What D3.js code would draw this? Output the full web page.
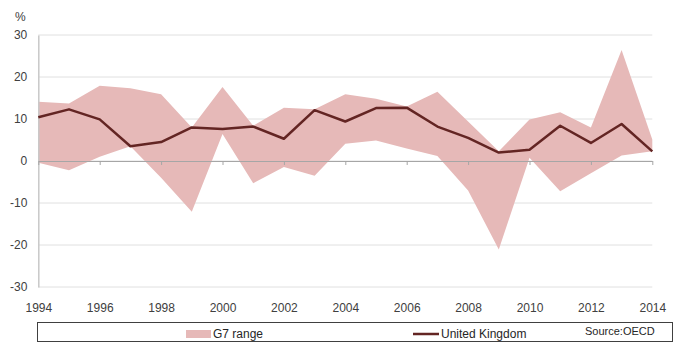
<!DOCTYPE html>
<html>
<head>
<meta charset="utf-8">
<script src="https://cdn.jsdelivr.net/npm/d3@7"></script>
<style>
  body { margin: 0; background: #fff; }
  svg { display: block; font-family: "Liberation Sans", Arial, sans-serif; }
</style>
</head>
<body>
<svg id="chart" width="681" height="348"></svg>
<script>
'use strict';

var years = d3.range(1994, 2015);
var g7Low = [-0.4, -2.2, 1.0, 3.5, -4.0, -12.1, 6.4, -5.3, -1.4, -3.5, 4.1,
  4.9, 3.0, 1.2, -7.0, -21.1, 0.8, -7.2, -2.9, 1.3, 2.3];
var g7High = [14.1, 13.7, 17.9, 17.3, 15.9, 8.0, 17.6, 8.4, 12.7, 12.3, 15.9,
  14.8, 13.0, 16.5, 9.4, 2.3, 9.9, 11.6, 8.0, 26.4, 5.1];
var uk = [10.4, 12.3, 9.9, 3.5, 4.5, 8.0, 7.6, 8.2, 5.3, 12.1, 9.4,
  12.6, 12.7, 8.2, 5.5, 2.0, 2.7, 8.4, 4.3, 8.8, 2.3];
var yTicks = [-30, -20, -10, 0, 10, 20, 30];
var xTicks = d3.range(1994, 2015, 2);

var svg = d3.select('#chart');

var x = d3.scaleLinear().domain([1994, 2014]).range([38.3, 652.3]);
var y = d3.scaleLinear().domain([-30, 30]).range([287, 35]);

// horizontal gridlines
svg.append('g')
  .selectAll('line')
  .data(yTicks)
  .enter()
  .append('line')
  .attr('x1', x(1994))
  .attr('x2', x(2014))
  .attr('y1', function (d) { return y(d); })
  .attr('y2', function (d) { return y(d); })
  .attr('stroke', '#e0e0e0')
  .attr('stroke-width', 1);

// G7 range band
var band = d3.area()
  .x(function (d, i) { return x(years[i]); })
  .y0(function (d, i) { return y(g7Low[i]); })
  .y1(function (d, i) { return y(g7High[i]); });

svg.append('path')
  .datum(years)
  .attr('d', band)
  .attr('fill', '#e6b9b8');

// y axis: labels only plus a plain vertical rule (plain hyphen for negatives)
var yAxis = svg.append('g')
  .attr('transform', 'translate(' + x(1994) + ',0)')
  .call(d3.axisLeft(y).tickValues(yTicks).tickSize(0).tickPadding(11)
    .tickFormat(function (d) { return String(d); }));
yAxis.select('.domain').attr('stroke', '#c8c8c8').attr('stroke-width', 1.5);
yAxis.selectAll('text')
  .attr('fill', '#404040')
  .style('font-size', '12px');

svg.append('text')
  .attr('x', 15)
  .attr('y', 21)
  .attr('fill', '#404040')
  .style('font-size', '12px')
  .text('%');

// x axis sits on the zero line, ticks point down
var xAxis = svg.append('g')
  .attr('transform', 'translate(0,' + y(0) + ')')
  .call(d3.axisBottom(x).tickValues(xTicks).tickFormat(d3.format('d'))
    .tickSizeInner(4).tickSizeOuter(0));
xAxis.select('.domain').attr('stroke', '#a6a6a6').attr('stroke-width', 1.2);
xAxis.selectAll('.tick line').attr('stroke', '#a6a6a6');
xAxis.selectAll('text')
  .attr('y', y(-30) - y(0) + 16)
  .attr('fill', '#404040')
  .style('font-size', '12px');

// United Kingdom line
var ukLine = d3.line()
  .x(function (d, i) { return x(years[i]); })
  .y(function (d) { return y(d); });

svg.append('path')
  .datum(uk)
  .attr('d', ukLine)
  .attr('fill', 'none')
  .attr('stroke', '#632523')
  .attr('stroke-width', 2.5)
  .attr('stroke-linejoin', 'round');

// legend
var legend = svg.append('g');
legend.append('rect')
  .attr('x', 37.5)
  .attr('y', 322.5)
  .attr('width', 635)
  .attr('height', 19)
  .attr('fill', '#fff')
  .attr('stroke', '#404040')
  .attr('stroke-width', 1);

legend.append('rect')
  .attr('x', 186)
  .attr('y', 330)
  .attr('width', 25)
  .attr('height', 8)
  .attr('fill', '#e6b9b8');

legend.append('text')
  .attr('x', 213)
  .attr('y', 338)
  .attr('fill', '#262626')
  .style('font-size', '12px')
  .text('G7 range');

legend.append('line')
  .attr('x1', 413)
  .attr('x2', 439)
  .attr('y1', 334)
  .attr('y2', 334)
  .attr('stroke', '#632523')
  .attr('stroke-width', 2.5);

legend.append('text')
  .attr('x', 441)
  .attr('y', 338)
  .attr('fill', '#262626')
  .style('font-size', '12px')
  .text('United Kingdom');

legend.append('text')
  .attr('x', 585)
  .attr('y', 335)
  .attr('fill', '#262626')
  .style('font-size', '11px')
  .text('Source:OECD');
</script>
</body>
</html>
